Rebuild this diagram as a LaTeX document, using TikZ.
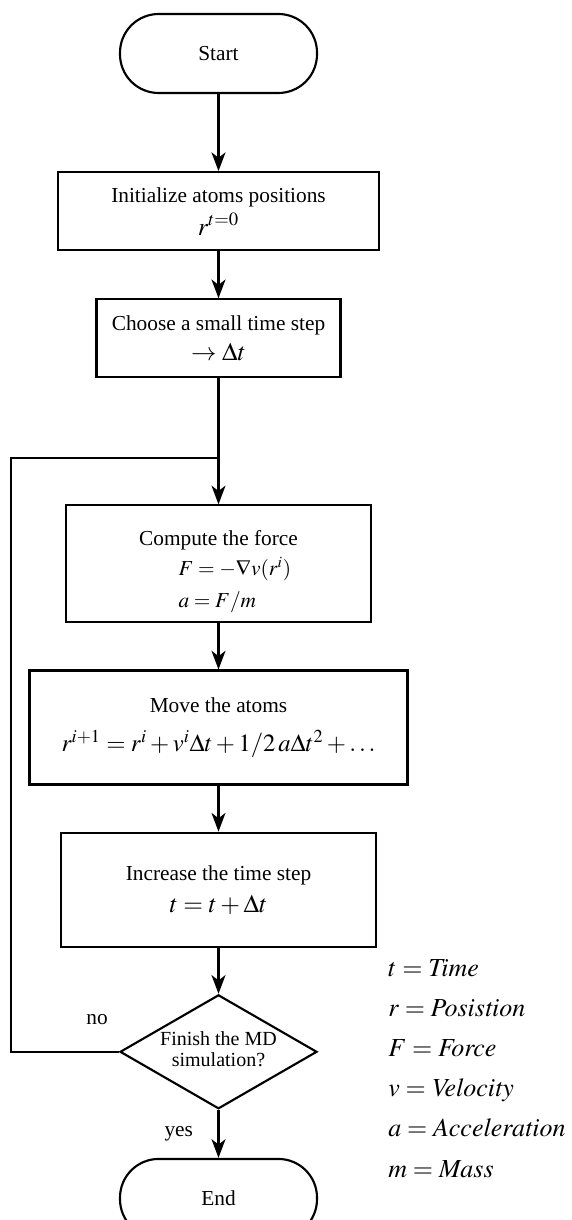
\documentclass[tikz,border=0pt]{standalone}
\usepackage{mathptmx}
\usepackage{fontspec}
\setmainfont{Liberation Serif}
\usetikzlibrary{shapes.geometric, arrows.meta, positioning}
\newcommand{\flowfont}{\fontsize{16}{19}\selectfont}
\newcommand{\eqfont}{\fontsize{19}{22}\selectfont}
\newcommand{\keyfont}{\fontsize{19.5}{23}\selectfont}
\tikzset{
  term/.style={rectangle, rounded corners=29pt, draw, line width=1.6pt, minimum width=147.75pt, minimum height=59.25pt, font=\flowfont},
  proc/.style={rectangle, draw, line width=1.6pt, align=center, font=\flowfont, inner sep=0pt},
  decide/.style={diamond, draw, line width=1.6pt, aspect=1.73, minimum width=147.75pt, minimum height=85.5pt, inner sep=0pt},
  arr/.style={-{Stealth[length=14pt, width=10.5pt, inset=4pt]}, line width=1.6pt},
  loopline/.style={line width=1.6pt},
  lbl/.style={font=\flowfont},
  keyitem/.style={anchor=base west, font=\keyfont, inner sep=0pt},
}

\begin{document}
\begin{tikzpicture}[x=0.75pt, y=-0.75pt]
\useasboundingbox (0,0) rectangle (571,1220);
\node[term] (start) at (218.5,53.5) {Start};
\node[proc, minimum width=240.75pt, minimum height=58.5pt, below=57.75pt of start] (init) {Initialize atoms positions\\[4pt] {\eqfont $r^{t=0}$}};
\node[proc, minimum width=183pt, minimum height=58.5pt, below=35.25pt of init] (choose) {Choose a small time step\\[4pt] {\eqfont $\rightarrow \Delta t$}};
\coordinate[below=60pt of choose] (join);
\node[proc, minimum width=228.75pt, minimum height=87.75pt, below=94.5pt of choose] (force) {\rule{0pt}{23pt}Compute the force\\[3pt] \makebox[60pt][l]{$F = -\nabla v(r^{i})$}\\[5pt] \makebox[60pt][l]{$a = F/m$}};
\node[proc, minimum width=283.5pt, minimum height=85.5pt, below=34.5pt of force] (move) {Move the atoms\\[10pt] {\fontsize{18.5}{22}\selectfont $r^{i+1} = r^{i} + v^{i}\Delta t + 1/2\,a\Delta t^{2} + \ldots$}};
\node[proc, minimum width=236.25pt, minimum height=85.5pt, below=34.5pt of move] (incr) {Increase the time step\\[5pt] {\eqfont $t = t + \Delta t$}};
\node[decide, below=34.5pt of incr, label={[name=fintext, align=center, font=\fontsize{15}{16}\selectfont, inner sep=0pt, yshift=2pt]center:Finish the MD\\simulation?}] (finish) {};
\node[term, below=36pt of finish] (stop) {End};
\node[lbl] (nolbl) at (97,1020) {no};
% flow
\draw[arr] (start) -- (init);
\draw[arr] (init) -- (choose);
\draw[loopline] (choose) -- (join);
\draw[arr] (join) -- (force);
\draw[arr] (force) -- (move);
\draw[arr] (move) -- (incr);
\draw[arr] (incr) -- (finish);
\draw[arr] (finish) -- node[lbl, left=15pt] (yeslbl) {yes} (stop);
\draw[loopline] (finish.west) -- ++(-81pt,0) |- (join);
% symbols
\foreach \sym/\word [count=\k] in {t/Time, r/Posistion, F/Force, v/Velocity, a/Acceleration, m/Mass}
  \node[keyitem] (key\k) at (388,{976+40.2*(\k-1)}) {$\sym = \mathit{\word}$};
\end{tikzpicture}
\end{document}
